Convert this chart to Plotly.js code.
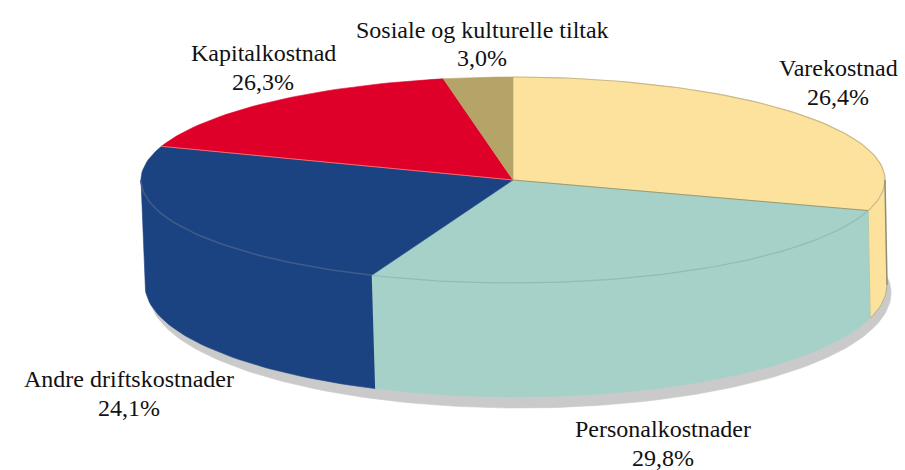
<!DOCTYPE html>
<html>
<head>
<meta charset="utf-8">
<script src="https://cdn.plot.ly/plotly-3.0.1.min.js"></script>
<style>html,body{margin:0;padding:0;background:#fff}#chart{width:905px;height:470px}</style>
</head>
<body>
<div id="chart"></div>
<script>
// Slice order runs clockwise from the top of the pie.
const categories = ["Varekostnad", "Personalkostnader", "Andre driftskostnader", "Kapitalkostnad", "Sosiale og kulturelle tiltak"];
// Share of the full circle each slice occupies in the picture (percent).
const drawnShares = [29.8, 26.4, 24.1, 16.7, 3.0];
// Percentages as printed beside each slice.
const printedLabels = ["26,4%", "29,8%", "24,1%", "26,3%", "3,0%"];
const colors = ["#FCE29C", "#A5D1C9", "#1C4381", "#DE0028", "#B5A468"];
const edgeColors = ["#C9B98A", "#8DBDB6", "#3F5B8A", "#E8707A", "#A39560"];

// Label anchors in page pixels: name centre / name y / value centre / value y.
const nameX  = [838, 663, 129, 263, 482];
const nameY  = [68, 429, 379, 53, 30];
const valueX = [838, 663, 129, 263, 482];
const valueY = [97, 458, 408, 82, 58];

const W = 905, H = 470;
// Pie geometry: one x unit is the radius of the top face; y is flattened by axis range.
const PXX = 372, PXY = 103, CX = 513, CY = 180;
const topFace = {dx: 0, dy: 0, rx: 1, ry: 1};
const bottomFace = {dx: 3 / PXX, dy: -105 / PXY, rx: 371 / PXX, ry: 112 / PXY};
const shadowFace = {dx: 7 / PXX, dy: -113 / PXY, rx: 371 / PXX, ry: 115 / PXY};

const rad = d => d * Math.PI / 180;
function arc(e, a, b) {
  const n = Math.max(2, Math.ceil(Math.abs(b - a) / 1.5));
  const xs = [], ys = [];
  for (let i = 0; i <= n; i++) {
    const t = rad(a + (b - a) * i / n);
    xs.push(e.dx + e.rx * Math.sin(t));
    ys.push(e.dy + e.ry * Math.cos(t));
  }
  return {x: xs, y: ys};
}
function area(x, y, color, line) {
  return {type: "scatter", mode: "lines", x, y, fill: "toself", fillcolor: color,
          line: {color: line || color, width: line ? 1 : 0.6}, hoverinfo: "skip", showlegend: false};
}
function stroke(x, y, color, width) {
  return {type: "scatter", mode: "lines", x, y, line: {color, width},
          hoverinfo: "skip", showlegend: false};
}

// Slice angle ranges from the shares.
const spans = [];
let acc = 0;
drawnShares.forEach(s => { const a = acc; acc += s * 3.6; spans.push([a, acc]); });

const traces = [];
// drop shadow
const sh = arc(shadowFace, 80, 280);
traces.push(area(sh.x, sh.y, "#CBCACB"));

// side walls (front half only: 90deg to 270deg)
spans.forEach((sp, i) => {
  const a = Math.max(sp[0], 90), b = Math.min(sp[1], 270);
  if (b <= a) return;
  const t = arc(topFace, a, b), u = arc(bottomFace, b, a);
  traces.push(area(t.x.concat(u.x), t.y.concat(u.y), colors[i]));
});

// top face slices
spans.forEach((sp, i) => {
  const t = arc(topFace, sp[0], sp[1]);
  traces.push(area([0].concat(t.x, [0]), [0].concat(t.y, [0]), colors[i]));
});

// rim lines where the top face meets the walls
spans.forEach((sp, i) => {
  const a = Math.max(sp[0], 90), b = Math.min(sp[1], 270);
  if (b <= a) return;
  const t = arc(topFace, a, b);
  traces.push(stroke(t.x, t.y, edgeColors[i], i === 2 ? 1.6 : 1.2));
});
// outer top edge of yellow slice
const yEdge = arc(topFace, spans[0][0], 90);
traces.push(stroke(yEdge.x, yEdge.y, edgeColors[0], 1.2));
// radial seams
const seam = (deg, color, w) => {
  const t = arc(topFace, deg, deg);
  traces.push(stroke([0, t.x[0]], [0, t.y[0]], color, w));
};
seam(spans[0][1], "#9E9A6E", 1);
seam(spans[2][1], "#E8707A", 1);
// vertical wall edges
const wallEdge = (deg, color, w) => {
  const t = arc(topFace, deg, deg), u = arc(bottomFace, deg, deg);
  traces.push(stroke([t.x[0], u.x[0]], [t.y[0], u.y[0]], color, w));
};
wallEdge(90, "#8F8C72", 1.5);
wallEdge(spans[0][1], "#B9C8A6", 1);
// lower contour of the walls
const low = arc(bottomFace, 90, spans[0][1]);
traces.push(stroke(low.x, low.y, "#A9AD98", 1));

const annotations = [];
const FONT = {family: "'Liberation Serif', serif", size: 24, color: "#111"};
categories.forEach((c, i) => {
  annotations.push({xref: "paper", yref: "paper", x: nameX[i] / W, y: 1 - nameY[i] / H,
    text: c, showarrow: false, font: FONT, xanchor: "center", yanchor: "middle"});
  annotations.push({xref: "paper", yref: "paper", x: valueX[i] / W, y: 1 - valueY[i] / H,
    text: printedLabels[i], showarrow: false, font: FONT, xanchor: "center", yanchor: "middle"});
});

Plotly.newPlot("chart", traces, {
  width: W, height: H,
  margin: {l: 0, r: 0, t: 0, b: 0},
  paper_bgcolor: "#fff", plot_bgcolor: "#fff",
  showlegend: false,
  xaxis: {range: [-CX / PXX, (W - CX) / PXX], visible: false, fixedrange: true},
  yaxis: {range: [(CY - H) / PXY, CY / PXY], visible: false, fixedrange: true},
  annotations
}, {displayModeBar: false, staticPlot: true});
</script>
</body>
</html>
